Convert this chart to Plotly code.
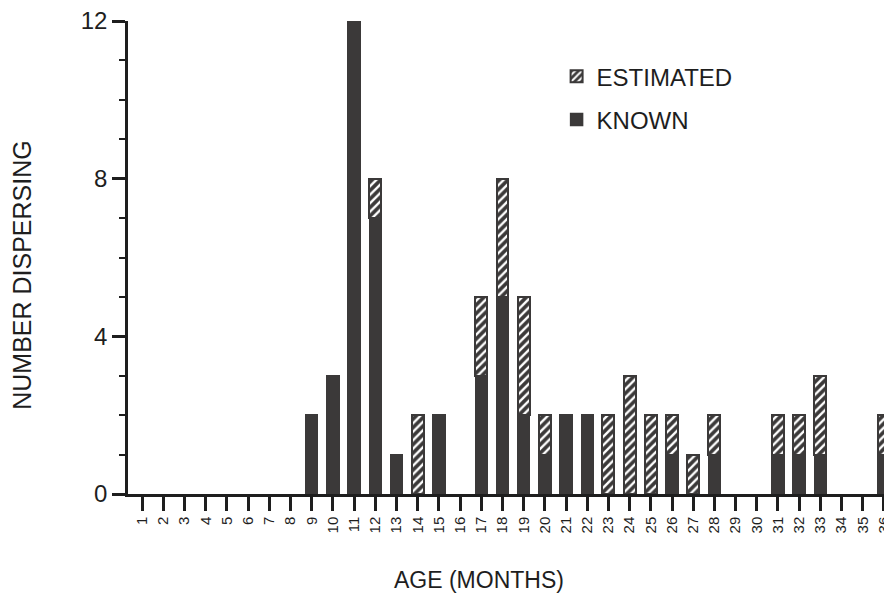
import plotly.graph_objects as go

months = list(range(1, 37))
month_labels = [str(m) for m in months]
known = [0, 0, 0, 0, 0, 0, 0, 0, 2, 3, 12, 7, 1, 0, 2, 0, 3, 5, 2, 1, 2, 2, 0, 0, 0, 1, 0, 1, 0, 0, 1, 1, 1, 0, 0, 1]
estimated = [0, 0, 0, 0, 0, 0, 0, 0, 0, 0, 0, 1, 0, 2, 0, 0, 2, 3, 3, 1, 0, 0, 2, 3, 2, 1, 1, 1, 0, 0, 1, 1, 2, 0, 0, 1]
y_ticks = [0, 4, 8, 12]
x_title = "AGE (MONTHS)"
y_title = "NUMBER DISPERSING"

DARK = "#3b3939"
INK = "#1e1e1e"
FONT = "Liberation Sans, Arial, Helvetica, sans-serif"


def nz(vals):
    return [v if v else None for v in vals]


fig = go.Figure()
fig.add_trace(go.Bar(
    x=months, y=nz(known), name="KNOWN", width=0.56, legendgroup="k", legendrank=2,
    marker=dict(color=DARK, line=dict(color=DARK, width=1.5)),
))
fig.add_trace(go.Bar(
    x=months, y=nz(estimated), name="ESTIMATED", width=0.56, legendgroup="e", legendrank=1,
    marker=dict(color=DARK, line=dict(color=DARK, width=2),
                pattern=dict(shape="/", fgcolor="white", bgcolor=DARK,
                             size=6, solidity=0.4, fillmode="replace")),
))

# the page body adds an 8px margin, so the figure is sized to fit inside it
fig.update_layout(
    barmode="stack",
    width=884, height=590,
    margin=dict(l=120, r=0, t=13, b=104, autoexpand=False),
    paper_bgcolor="white", plot_bgcolor="white",
    font=dict(family=FONT, color=INK),
    showlegend=True,
    legend=dict(
        traceorder="grouped",
        x=0.561, y=0.93, xanchor="left", yanchor="top",
        font=dict(size=24, family=FONT, color=INK),
        bgcolor="rgba(0,0,0,0)", itemwidth=30, tracegroupgap=9,
    ),
    xaxis=dict(
        automargin=False,
        range=[0.333, 36.38],
        tickmode="array", tickvals=months, ticktext=month_labels,
        tickangle=-90, tickfont=dict(size=15, family=FONT, color=INK),
        ticklabeloverflow="allow",
        ticks="outside", ticklen=14, tickwidth=2.5, tickcolor=INK,
        showline=True, linecolor=INK, linewidth=2.5,
        showgrid=False, zeroline=False,
    ),
    yaxis=dict(
        automargin=False,
        range=[0, 12],
        tickmode="array", tickvals=y_ticks, ticktext=[str(v) for v in y_ticks],
        tickfont=dict(size=24, family=FONT, color=INK),
        ticklabeloverflow="allow",
        ticks="outside", ticklen=13, tickwidth=2.5, tickcolor=INK,
        minor=dict(dtick=1, ticks="outside", ticklen=6, tickwidth=2, tickcolor=INK, showgrid=False),
        showline=True, linecolor=INK, linewidth=2.5,
        showgrid=False, zeroline=False,
    ),
    annotations=[
        dict(text=x_title, xref="paper", yref="paper", x=0.459, y=-0.182,
             xanchor="center", yanchor="middle", showarrow=False,
             font=dict(size=23, family=FONT, color=INK)),
        dict(text=y_title, xref="paper", yref="paper", x=-0.139, y=0.463,
             xanchor="center", yanchor="middle", textangle=-90, showarrow=False,
             font=dict(size=25, family=FONT, color=INK)),
    ],
)

fig.write_html("out.html")
